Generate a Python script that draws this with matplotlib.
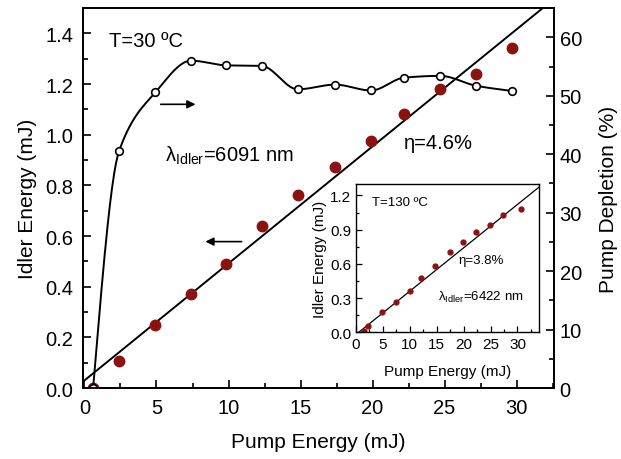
import numpy as np
import matplotlib
matplotlib.use('Agg')
import matplotlib.pyplot as plt
from matplotlib.ticker import MultipleLocator

plt.rcParams['font.family'] = ['Liberation Sans', 'DejaVu Sans']
plt.rcParams['mathtext.fontset'] = 'custom'
plt.rcParams['mathtext.rm'] = 'Liberation Sans'
plt.rcParams['mathtext.it'] = 'Liberation Sans:italic'

# main data, T=30 C
pump = [0.6, 2.4, 4.93, 7.4, 9.84, 12.3, 14.8, 17.4, 19.9, 22.2, 24.7, 27.2, 29.7]
idler = [0.0, 0.107, 0.247, 0.37, 0.49, 0.64, 0.763, 0.872, 0.977, 1.08, 1.18, 1.24, 1.344]
depl = [0.0, 40.5, 50.6, 56.0, 55.2, 55.1, 51.1, 51.9, 50.9, 53.1, 53.4, 51.7, 50.8]
eta_main = 0.0462
icpt_main = 0.03

# inset data, T=130 C
pump_in = [1.5, 2.3, 4.9, 7.4, 10.0, 12.1, 14.75, 17.4, 19.8, 22.3, 24.8, 27.3, 30.6]
idler_in = [0.014, 0.053, 0.176, 0.269, 0.366, 0.475, 0.577, 0.703, 0.791, 0.875, 0.937, 1.025, 1.078]
eta_in = 0.038
thr_in = 0.5

red = '#8c1212'


def pchip(x, y, xs):
    # monotone cubic interpolation (Fritsch-Carlson)
    x = np.asarray(x, float); y = np.asarray(y, float)
    h = np.diff(x)
    dl = np.diff(y) / h
    m = np.zeros_like(y)
    for i in range(1, len(x) - 1):
        if dl[i - 1] * dl[i] > 0:
            w1 = 2 * h[i] + h[i - 1]
            w2 = h[i] + 2 * h[i - 1]
            m[i] = (w1 + w2) / (w1 / dl[i - 1] + w2 / dl[i])
    m[0] = dl[0] * 1.3
    m[-1] = dl[-1]
    k = np.clip(np.searchsorted(x, xs) - 1, 0, len(x) - 2)
    t = (xs - x[k]) / h[k]
    h00 = 2 * t**3 - 3 * t**2 + 1
    h10 = t**3 - 2 * t**2 + t
    h01 = -2 * t**3 + 3 * t**2
    h11 = t**3 - t**2
    return h00 * y[k] + h10 * h[k] * m[k] + h01 * y[k + 1] + h11 * h[k] * m[k + 1]


fig = plt.figure(figsize=(6.21, 4.6), dpi=100)
ax = fig.add_axes([0.1337, 0.1543, 0.7585, 0.826])
ax2 = ax.twinx()

xl = np.linspace(-0.2, 33, 50)
ax.plot(xl, eta_main * xl + icpt_main, color='k', lw=1.4)
ax.plot(pump, idler, 'o', color=red, ms=7.5, mec=red)
xs = np.linspace(pump[0], pump[-1], 400)
ax2.plot(xs, pchip(pump, depl, xs), color='k', lw=1.4)
ax2.plot(pump, depl, 'o', mfc='white', mec='k', ms=5.5, mew=1.2)

ax.set_xlim(-0.1, 32.6)
ax.set_ylim(0, 1.5)
ax2.set_ylim(0, 65)
ax.xaxis.set_major_locator(MultipleLocator(5))
ax.xaxis.set_minor_locator(MultipleLocator(2.5))
ax.yaxis.set_major_locator(MultipleLocator(0.2))
ax.yaxis.set_minor_locator(MultipleLocator(0.1))
ax2.yaxis.set_major_locator(MultipleLocator(10))
ax2.yaxis.set_minor_locator(MultipleLocator(5))
for a in (ax, ax2):
    a.tick_params(which='both', direction='in', labelsize=14.5, width=1.2)
    a.tick_params(which='major', length=6)
    a.tick_params(which='minor', length=3.5)
    for s in a.spines.values():
        s.set_linewidth(1.3)
ax.tick_params(top=False, which='both')
ax.tick_params(axis='y', pad=7)
ax.tick_params(axis='x', pad=7)
ax2.tick_params(axis='y', pad=4)
ax.set_xlabel('Pump Energy (mJ)', fontsize=15, labelpad=11)
ax.set_ylabel('Idler Energy (mJ)', fontsize=15, labelpad=6)
ax2.set_ylabel('Pump Depletion (%)', fontsize=15, labelpad=12)

ax.text(1.7, 1.37, 'T=30 ºC', fontsize=14.5, va='center')
ax.text(5.6, 0.92, 'λ$_{\\mathrm{Idler}}$=6091 nm', fontsize=14.5, va='center')
ax.text(22.2, 0.97, 'η=4.6%', fontsize=14.5, va='center')
ax.annotate('', xy=(7.9, 1.12), xytext=(5.1, 1.12),
            arrowprops=dict(arrowstyle='-|>', color='k', lw=1.2, mutation_scale=12))
ax.annotate('', xy=(8.2, 0.578), xytext=(11.1, 0.578),
            arrowprops=dict(arrowstyle='-|>', color='k', lw=1.2, mutation_scale=12))

# inset
axi = fig.add_axes([0.5733, 0.2754, 0.2947, 0.3224])
xli = np.linspace(thr_in, 34, 50)
axi.plot(xli, eta_in * (xli - thr_in), color='k', lw=0.9)
axi.plot(pump_in, idler_in, 'o', color=red, ms=3.5, mec=red)
axi.set_xlim(0, 34)
axi.set_ylim(0, 1.3)
axi.xaxis.set_major_locator(MultipleLocator(5))
axi.xaxis.set_minor_locator(MultipleLocator(2.5))
axi.yaxis.set_major_locator(MultipleLocator(0.3))
axi.yaxis.set_minor_locator(MultipleLocator(0.15))
axi.tick_params(which='both', direction='in', labelsize=11, width=0.9)
axi.tick_params(which='major', length=4)
axi.tick_params(which='minor', length=2.5)
for s in axi.spines.values():
    s.set_linewidth(1.0)
axi.set_xlabel('Pump Energy (mJ)', fontsize=11, labelpad=9)
axi.set_ylabel('Idler Energy (mJ)', fontsize=11, labelpad=2)
axi.text(3.0, 1.14, 'T=130 ºC', fontsize=9.5, va='center')
axi.text(19.0, 0.63, 'η=3.8%', fontsize=9.5, va='center')
axi.text(15.3, 0.316, 'λ$_{\\mathrm{Idler}}$=6422 nm', fontsize=9.5, va='center')

fig.savefig('out.png', dpi=100)
